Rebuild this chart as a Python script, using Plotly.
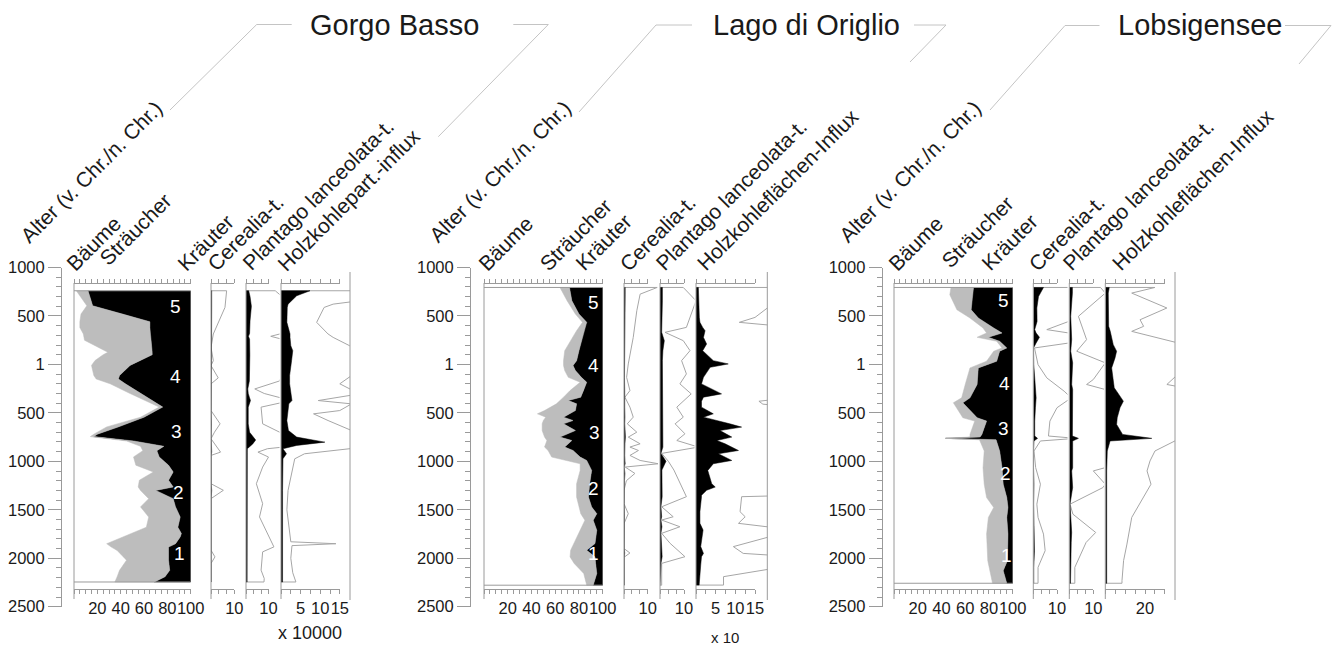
import plotly.graph_objects as go

# ---------------------------------------------------------------- data
# ages: positive = n. Chr., negative = v. Chr.
age_tickvals = [1000, 500, 0, -500, -1000, -1500, -2000, -2500]
age_ticktext = ["1000", "500", "1", "500", "1000", "1500", "2000", "2500"]

site_names = ["Gorgo Basso", "Lago di Origlio", "Lobsigensee"]
header_texts = [
    ["Alter (v. Chr./n. Chr.)", "Bäume", "Sträucher", "Kräuter", "Cerealia-t.",
     "Plantago lanceolata-t.", "Holzkohlepart.-influx"],
    ["Alter (v. Chr./n. Chr.)", "Bäume", "Sträucher", "Kräuter", "Cerealia-t.",
     "Plantago lanceolata-t.", "Holzkohleflächen-Influx"],
    ["Alter (v. Chr./n. Chr.)", "Bäume", "Sträucher", "Kräuter", "Cerealia-t.",
     "Plantago lanceolata-t.", "Holzkohleflächen-Influx"],
]
zone_labels = ["5", "4", "3", "2", "1"]

# --- Gorgo Basso
gb_ages = [760, 605, 520, 440, 380, 315, 250, 125, 100, 40, -10, -115, -150, -200, -300, -440,
           -545, -645, -720, -745, -790, -845, -890, -955, -1040, -1110, -1195, -1265, -1300,
           -1385, -1470, -1575, -1680, -1745, -1780, -1850, -1885, -1920, -2020, -2125, -2190, -2245]
gb_baeume = [2, 11, 6, 5, 5, 8, 9, 29, 25, 18, 15, 17, 19, 31, 48, 73, 57, 28, 17, 14, 45, 57,
             59, 51, 53, 68, 56, 55, 57, 64, 57, 64, 62, 49, 42, 28, 32, 37, 45, 39, 37, 35]
gb_straeucher = [10, 5, 36, 60, 60, 57, 57, 38, 42, 39, 33, 22, 19, 13, 9, 3, 3, 10, 3, 3, 6, 20,
                 12, 22, 28, 17, 25, 30, 13, 21, 30, 27, 27, 43, 49, 59, 49, 44, 36, 43, 41, 34]
gb_zone_ages = [595, -127, -695, -1320, -1949]
gb_zone_x = [86.6, 86.6, 88, 89.4, 90]

gb_cer_ages = [760, 588, 314, 176, 39, -12, -139, -201, -476, -613, -699, -767, -905, -939,
               -1231, -1299, -1385, -1917, -1986, -2054, -2245]
gb_cer = [0.3, 0.3, 0.2, 0.1, 0.1, 0.1, 0.2, 0.1, 0.1, 0.2, 0.1, 0.1, 0.3, 0.1, 0.1, 0.3, 0.1,
          0.1, 0.1, 0.1, 0.1]
gb_cer_ex = [6.7, 6.0, 1.0, 0, 1.0, 0, 3.1, 0, 0, 3.9, 1.5, 0, 4.1, 0, 0, 5.3, 0, 0, 1.7, 0, 0]

gb_pla_ages = [760, 700, 600, 450, 320, 290, 260, 100, -100, -170, -253, -300, -338, -373, -441,
               -613, -700, -780, -820, -870, -905, -956, -1059, -1231, -1437, -1574, -1711, -1883,
               -1934, -2123, -2209, -2245]
gb_pla = [1.2, 1.8, 2.4, 1.8, 1.6, 1.1, 1.6, 1.7, 1.6, 1.5, 0.8, 1.0, 1.5, 2.0, 1.0, 1.0, 1.6,
          4.3, 3.0, 0.6, 0.6, 0.6, 0.6, 0.6, 0.5, 0.5, 0.6, 0.5, 0.6, 0.6, 0.6, 0.5]
gb_pla_ex = [13, 16, 20, 18, 16, 11, 16, 17, 16, 15, 3.9, 8.1, 15, 20, 6.7, 7.4, 15, 40, 30, 9.5,
             5.3, 10, 7.4, 4.6, 7.4, 6.0, 8.9, 12.4, 7.4, 6.7, 8.1, 8.0]

gb_hk_ages = [760, 708, 622, 588, 434, 314, 279, 193, 142, 39, -115, -200, -304, -373, -407, -476,
              -510, -579, -682, -750, -802, -836, -870, -922, -974, -1100, -1300, -1500, -1700,
              -1830, -1850, -1870, -2000, -2150, -2245]
gb_hk = [7.4, 4.0, 1.8, 1.6, 1.5, 2.3, 2.3, 2.5, 3.0, 2.7, 2.2, 2.2, 2.5, 2.8, 2.0, 1.8, 1.6, 1.5,
         1.9, 4.0, 11.2, 4.0, 0.5, 1.4, 0.5, 0.4, 0.4, 0.4, 0.4, 0.4, 0.5, 0.4, 0.4, 0.4, 0.4]
gb_hk_ex = [30, 30, 13.3, 11, 9.1, 12, 13.3, 17.5, 25, 25, 18, 15, 20, 9.5, 18, 15, 8.3, 12, 18,
            30, 30, 25, 17, 6, 3.5, 2.8, 1.8, 1.5, 2.0, 2.5, 14, 2.8, 2.5, 3.0, 3.8]

# --- Lago di Origlio
lo_ages = [794, 657, 520, 434, 348, 211, 142, 39, -12, -64, -133, -184, -270, -338, -373, -407,
           -476, -510, -544, -579, -613, -682, -750, -785, -853, -888, -956, -991, -1025, -1094,
           -1231, -1368, -1471, -1540, -1608, -1711, -1849, -1917, -1986, -2054, -2157, -2278]
lo_baeume = [64, 70, 77, 83, 78, 71, 68, 67, 67, 68, 71, 81, 72.5, 67, 64, 61, 51, 45, 52, 50,
             49, 49, 51, 53, 51, 54, 57, 70, 81, 81, 78, 78, 80, 81.5, 85, 81, 75, 73, 72.5, 76,
             84, 86.5]
lo_straeucher = [8, 4, 3, 3.5, 6, 10.5, 12, 11, 8, 9, 11, 5.5, 11.5, 14.5, 7, 17, 26, 27, 15, 25,
                 18, 28, 13, 21, 17, 21, 24, 16.5, 7, 9.7, 11, 10, 10.7, 13.5, 7, 14, 18.5, 13.5,
                 21, 18, 11, 5.5]
lo_zone_ages = [637, -6, -705, -1279, -1949]
lo_zone_x = [92, 92, 93, 92, 92]

lo_cer_ages = [794, 725, 554, 279, 142, 5, -133, -270, -338, -441, -544, -613, -699, -750, -819,
               -853, -888, -939, -991, -1025, -1059, -1125, -1200, -1300, -1437, -1540, -1643,
               -1900, -1946, -1990, -2278]
lo_cer = [0.5, 0.5, 0.4, 0.3, 0.3, 0.3, 0.2, 0.3, 0.2, 0.3, 0.4, 0.3, 0.5, 0.6, 0.4, 0.3, 0.4,
          0.3, 0.4, 0.5, 0.1, 0.4, 0.2, 0.1, 0.1, 0.2, 0.1, 0.1, 0.3, 0.1, 0.1]
lo_cer_ex = [14, 6.8, 5.4, 3.9, 2.8, 1.8, 1.1, 2.5, 0.4, 2.5, 3.9, 1.4, 5.4, 1.8, 6.8, 2.5, 6.1,
             2.5, 6.8, 14.5, 0.5, 4.6, 1.0, 0, 0, 1.8, 0, 0, 2.5, 0, 0]

lo_pla_ages = [794, 657, 382, 331, 245, 142, 39, -98, -201, -304, -441, -544, -613, -716, -785,
               -853, -918, -1000, -1090, -1365, -1469, -1572, -1606, -1675, -1743, -1846, -1984,
               -2053, -2278]
lo_pla = [1.0, 1.0, 1.0, 0.7, 1.8, 1.2, 1.0, 1.0, 1.0, 1.0, 1.0, 1.0, 1.0, 1.2, 1.0, 1.2, 0.4,
          2.5, 0.8, 0.9, 0.4, 0.7, 0.4, 0.8, 0.4, 0.6, 0.9, 0.4, 0.3]
lo_pla_ex = [9.7, 15, 11, 2.1, 9.7, 12.5, 9.0, 11, 8.3, 13, 7.0, 9.7, 6.3, 10.4, 7.0, 16, 0.7,
             3.5, 5.8, 11, 0.7, 5.5, 0.7, 8.3, 0.7, 4.2, 10.4, 0.7, 0.7]

lo_hk_ages = [794, 485, 434, 382, 348, 279, 211, 142, 39, 5, -30, -133, -201, -304, -338, -380,
              -410, -441, -510, -544, -613, -647, -682, -750, -785, -819, -888, -922, -991, -1025,
              -1094, -1231, -1265, -1299, -1351, -1365, -1520, -1572, -1640, -1709, -1880, -1950,
              -1984, -2070, -2190, -2277]
lo_hk = [0.6, 0.85, 1.0, 1.7, 2.3, 1.9, 2.7, 1.7, 4.4, 8.2, 3.6, 1.9, 1.4, 6.5, 1.9, 1.4, 1.4,
         1.4, 4.4, 1.9, 8.6, 11.6, 6.1, 9.1, 5.3, 7.4, 10.8, 5.7, 9.1, 4.4, 3.0, 4.0, 4.9, 2.7,
         1.4, 1.4, 1.0, 1.0, 1.0, 1.8, 1.2, 1.9, 1.4, 1.2, 1.0, 0.8]
lo_hk_ex = [25, 15, 11, 25, 25, 25, 25, 25, 25, 25, 25, 25, 25, 25, 25, 16, 17, 25, 25, 25, 25,
            25, 25, 25, 25, 25, 25, 25, 25, 25, 25, 25, 25, 25, 25, 11.6, 11.2, 12.5, 10.8, 25,
            9.5, 12, 25, 25, 7, 7]

# --- Lobsigensee
ls_ages = [794, 719, 564, 479, 376, 324, 280, 239, 170, 136, 33, -36, -207, -345, -396, -550,
           -585, -722, -749, -763, -777, -893, -1065, -1236, -1374, -1476, -1579, -1751, -2025,
           -2128, -2258]
ls_baeume = [48, 47, 53, 64, 75, 78, 70, 86.5, 91, 84, 78, 64, 60, 57, 50, 58, 68, 64, 64, 43,
             72, 76, 75, 76, 78, 84, 79.5, 78, 79, 81, 83]
ls_straeucher = [19, 19, 12, 7, 9, 13, 9.5, 2.5, 4, 5, 8.5, 7, 10, 7, 8, 12, 10, 10, 8.5, 0.5,
                 14, 13, 16, 16, 17, 12, 15.5, 18, 16.5, 11, 12]
ls_zone_ages = [657, -195, -659, -1124, -1967]
ls_zone_x = [92, 93, 92, 94, 95]

ls_cer_ages = [794, 700, 582, 444, 359, 324, 280, 221, 170, -2, -139, -276, -345, -447, -585,
               -739, -763, -790, -893, -1065, -1236, -1442, -1579, -1751, -1922, -2094, -2258]
ls_cer = [4.3, 2.2, 1.5, 1.6, 0.6, 1.2, 2.6, 1.2, 0.1, 0.2, 0.5, 1.0, 1.2, 0.9, 0.6, 0.6, 1.8,
          0.3, 0.1, 0.1, 0.3, 0.15, 0.2, 0.4, 0.5, 0.2, 0.2]
ls_cer_ex = [30, 25, 20, 15, 5.7, 15, 26, 15, 0.5, 2.0, 5.7, 13, 16, 10, 7, 6.4, 18, 3, 0.3, 1,
             3, 1.5, 2, 4.3, 5, 2, 2]

ls_pla_ages = [794, 736, 496, 256, 136, 16, -156, -207, -259, -482, -739, -763, -790, -859,
               -1065, -1099, -1236, -1271, -1442, -1545, -1734, -1837, -2094, -2258]
ls_pla = [1.3, 1.3, 0.6, 1.0, 0.6, 1.4, 1.2, 1.0, 1.4, 1.4, 1.3, 3.8, 1.4, 1.4, 1.4, 1.0, 1.4,
          1.4, 0.3, 0.5, 1.0, 0.8, 0.5, 0.5]
ls_pla_ex = [13, 15, 3.8, 7.2, 3.1, 15, 10, 7.2, 15, 16, 16, 30, 16, 15, 15, 10, 15, 14, 0.3,
             1.5, 11, 7, 2.3, 2.3]

ls_hk_ages = [794, 736, 582, 461, 393, 341, 204, 136, 67, -36, -207, -242, -276, -379, -447,
              -550, -619, -722, -763, -790, -893, -996, -1099, -1236, -1408, -1579, -1854, -2025,
              -2231, -2258]
ls_hk = [2.0, 1.5, 1.6, 1.7, 1.7, 2.5, 4.0, 5.7, 4.9, 3.2, 4.0, 4.5, 5.7, 9.1, 7.4, 6.0, 5.7,
         8.7, 23.4, 2.4, 1.0, 0.7, 0.7, 0.7, 0.7, 0.7, 0.7, 0.7, 0.7, 0.7]
ls_hk_ex = [25, 13.3, 31, 17.5, 19.3, 13.3, 40, 40, 40, 40, 31, 40, 40, 40, 40, 40, 40, 40, 40,
            35, 25, 22.5, 21, 23, 18, 13.3, 10.9, 9.2, 8.4, 8.4]

# ---------------------------------------------------------------- layout constants (pixels)
W, H = 1334, 646
FONT = "Liberation Sans, Arial, sans-serif"
TXT = "#1a1a1a"
AX = "#9a9a9a"
GREYFILL = "#bdbdbd"
EXLINE = "#a6a6a6"
LEAD = "#c4c4c4"

AGE_TOP_PX, AGE_BOT_PX = 267.5, 606.7     # 1000 n. Chr. / 2500 v. Chr.
AX_TOP_PX, AX_BOT_PX = 283.0, 589.0
TICKFONT = dict(size=16.5, color=TXT, family=FONT)


def fx(p):
    return p / W


def fy(p):
    return 1 - p / H


thirds = [0, 10 / 3, 20 / 3, 10]
sites = [
    dict(yax=61, pct=(74, 190.7),
         panels=[(211, 234.3, 10, 244, thirds, ["", "", "", "10"]),
                 (246, 268.5, 10, 279.5, thirds, ["", "", "", "10"]),
                 (281, 339.8, 15, 350, [0, 2.5, 5, 7.5, 10, 12.5, 15],
                  ["", "", "5", "", "10", "", "15"])],
         right=350,
         perc=(gb_ages, gb_baeume, gb_straeucher),
         zones=(gb_zone_ages, gb_zone_x),
         small=[(gb_cer_ages, gb_cer, gb_cer_ex), (gb_pla_ages, gb_pla, gb_pla_ex),
                (gb_hk_ages, gb_hk, gb_hk_ex)],
         title_c=394, heads=[(29.5, 243.3), (75, 271.7), (108.3, 266.7), (186.7, 271.7),
                             (216.7, 271.7), (251.7, 271.7), (286.7, 271.7)],
         leaders=[[(170, 110), (256.7, 24.5), (291.7, 24.5)],
                  [(513.3, 24.5), (548.3, 24.5), (438.3, 136.7)]],
         mult=("x 10000", 310, 633, 18)),
    dict(yax=470, pct=(484, 602.7),
         panels=[(624, 647.7, 10, 658, thirds, ["", "", "", "10"]),
                 (660, 684, 10, 694.5, thirds, ["", "", "", "10"]),
                 (696, 755, 15, 767.3, [0, 2.5, 5, 7.5, 10, 12.5, 15],
                  ["", "", "5", "", "10", "", "15"])],
         right=767.3,
         perc=(lo_ages, lo_baeume, lo_straeucher),
         zones=(lo_zone_ages, lo_zone_x),
         small=[(lo_cer_ages, lo_cer, lo_cer_ex), (lo_pla_ages, lo_pla, lo_pla_ex),
                (lo_hk_ages, lo_hk, lo_hk_ex)],
         title_c=806, heads=[(438, 243.3), (487, 271.7), (549, 271.7), (584, 271.7),
                             (629, 271.7), (665, 271.7), (706, 271.7)],
         leaders=[[(579, 112), (656, 25), (692, 25)],
                  [(914, 25), (946, 25), (910, 62)]],
         mult=("x 10", 725, 637, 15)),
    dict(yax=881.7, pct=(894, 1012.7),
         panels=[(1033.3, 1057, 10, 1067.5, thirds, ["", "", "", "10"]),
                 (1069.3, 1093.3, 10, 1104, thirds, ["", "", "", "10"]),
                 (1105.3, 1164.9, 30, 1175, [0, 5, 10, 15, 20, 25, 30],
                  ["", "", "", "", "20", "", ""])],
         right=1175,
         perc=(ls_ages, ls_baeume, ls_straeucher),
         zones=(ls_zone_ages, ls_zone_x),
         small=[(ls_cer_ages, ls_cer, ls_cer_ex), (ls_pla_ages, ls_pla, ls_pla_ex),
                (ls_hk_ages, ls_hk, ls_hk_ex)],
         title_c=1200, heads=[(848, 243.3), (897, 271.7), (951, 269), (990, 271.7),
                              (1038, 271.7), (1072, 271.7), (1121, 271.7)],
         leaders=[[(990, 110), (1065, 25.5), (1099.5, 25.5)],
                  [(1285, 25.5), (1331, 25.5), (1299, 64)]],
         mult=None),
]

# ---------------------------------------------------------------- build
fig = go.Figure()
axes = {}
annotations = []
shapes = []
cnt = [0]


def new_x(spec):
    cnt[0] += 1
    n = cnt[0]
    axes["xaxis" if n == 1 else f"xaxis{n}"] = spec
    return "x" if n == 1 else f"x{n}"


def tick_axis(rng, pos, side, tv, tt, labels, domain=None, overlay=None):
    d = dict(range=rng, anchor="free", position=pos, side=side, tickmode="array",
             tickvals=tv, ticktext=tt, showticklabels=labels, ticks="outside", ticklen=4,
             tickwidth=1, tickcolor=AX, showline=True, linecolor=AX, linewidth=1,
             showgrid=False, zeroline=False, fixedrange=True, tickfont=TICKFONT,
             tickangle=0)
    if domain is not None:
        d["domain"] = domain
    if overlay is not None:
        d["overlaying"] = overlay
    return d


def dummy(xr, yr):
    fig.add_trace(go.Scatter(x=[None], y=[None], xaxis=xr, yaxis=yr, mode="lines",
                             hoverinfo="skip", showlegend=False))


def vline(x, y0, y1):
    shapes.append(dict(type="line", xref="paper", yref="paper", x0=fx(x), x1=fx(x),
                       y0=fy(y0), y1=fy(y1), line=dict(color=AX, width=1)))


def header(text, sx, sy, size=21):
    annotations.append(dict(text=text, x=fx(sx - 0.64 * size), y=fy(sy + 0.15 * size),
                            xref="paper", yref="paper", xanchor="left", yanchor="bottom",
                            textangle=-45, showarrow=False, borderpad=0, borderwidth=0,
                            font=dict(size=size, color=TXT, family=FONT)))


pct_vals = list(range(0, 101, 5))
pct_text = [str(v) if v in (20, 40, 60, 80, 100) else "" for v in pct_vals]

for k, s in enumerate(sites):
    yr = "y" if k == 0 else f"y{k + 1}"
    ykey = "yaxis" if k == 0 else f"yaxis{k + 1}"
    axes[ykey] = dict(domain=[fy(AGE_BOT_PX), fy(AGE_TOP_PX)], range=[-2500, 1000],
                      anchor="free", position=fx(s["yax"]), side="left",
                      tickmode="array", tickvals=age_tickvals, ticktext=age_ticktext,
                      ticks="outside", ticklen=13, tickwidth=1, tickcolor=AX,
                      showline=True, linecolor=AX, linewidth=1, showgrid=False,
                      zeroline=False, fixedrange=True, tickfont=TICKFONT, tickangle=0,
                      minor=dict(tickmode="linear", tick0=0, dtick=100, ticks="outside",
                                 ticklen=5, tickcolor=AX, showgrid=False))

    # ---- percentage panel
    L, R = s["pct"]
    ages, bae, stra = s["perc"]
    px_ = new_x(tick_axis([0, 100], fy(AX_BOT_PX), "bottom", pct_vals, pct_text, True,
                          domain=[fx(L), fx(R)]))
    ptop = new_x(tick_axis([0, 100], fy(AX_TOP_PX), "top", pct_vals, pct_text, False,
                           overlay=px_))
    dummy(ptop, yr)
    ts = [b + c for b, c in zip(bae, stra)]
    # Kräuter (black) – from trees+shrubs to 100
    fig.add_trace(go.Scatter(x=ts + [100, 100], y=ages + [ages[-1], ages[0]],
                             fill="toself", fillcolor="black", mode="lines",
                             line=dict(color="black", width=0.6), xaxis=px_, yaxis=yr,
                             hoverinfo="skip", showlegend=False))
    # Sträucher (grey band)
    fig.add_trace(go.Scatter(x=bae + ts[::-1], y=ages + ages[::-1], fill="toself",
                             fillcolor=GREYFILL, mode="lines",
                             line=dict(color=GREYFILL, width=0.5), xaxis=px_, yaxis=yr,
                             hoverinfo="skip", showlegend=False))
    # top / bottom closing lines of the diagram
    fig.add_trace(go.Scatter(x=[0, 100, None, 0, 100],
                             y=[ages[0], ages[0], None, ages[-1], ages[-1]], mode="lines",
                             line=dict(color=AX, width=1), xaxis=px_, yaxis=yr,
                             hoverinfo="skip", showlegend=False))
    zages, zx = s["zones"]
    for lab, za, zxx in zip(zone_labels, zages, zx):
        annotations.append(dict(text=lab, x=zxx, y=za, xref=px_, yref=yr, showarrow=False,
                                font=dict(size=19, color="white", family=FONT)))
    vline(L, AX_TOP_PX, 599)

    # ---- small panels
    for (Lp, E, ev, C, tv, tt), (sa, blk, ex) in zip(s["panels"], s["small"]):
        ppu = (E - Lp) / ev
        dx = new_x(dict(domain=[fx(Lp), fx(C)], range=[0, (C - Lp) / ppu], visible=False,
                        anchor="free", position=0, fixedrange=True))
        bx = new_x(tick_axis([0, ev], fy(AX_BOT_PX), "bottom", tv, tt, True,
                             domain=[fx(Lp), fx(E)]))
        tx = new_x(tick_axis([0, ev], fy(AX_TOP_PX), "top", tv, tt, False, overlay=bx))
        dummy(bx, yr)
        dummy(tx, yr)
        yy = [sa[0]] + sa + [sa[-1]]
        fig.add_trace(go.Scatter(x=[0] + ex + [0], y=yy, mode="lines",
                                 line=dict(color=EXLINE, width=1), xaxis=dx, yaxis=yr,
                                 hoverinfo="skip", showlegend=False))
        fig.add_trace(go.Scatter(x=[0] + blk + [0], y=yy, mode="lines", fill="toself",
                                 fillcolor="black", line=dict(color="black", width=0.5),
                                 xaxis=dx, yaxis=yr, hoverinfo="skip", showlegend=False))
        vline(Lp, AX_TOP_PX, 599)
    vline(s["right"], 272, 600)

    # ---- texts
    annotations.append(dict(text=site_names[k], x=fx(s["title_c"]), y=fy(25), xref="paper",
                            yref="paper", xanchor="center", yanchor="middle", showarrow=False,
                            font=dict(size=29, color=TXT, family=FONT)))
    for txt, (hx, hy) in zip(header_texts[k], s["heads"]):
        header(txt, hx, hy)
    for poly in s["leaders"]:
        for (x0, y0), (x1, y1) in zip(poly[:-1], poly[1:]):
            shapes.append(dict(type="line", xref="paper", yref="paper", x0=fx(x0), y0=fy(y0),
                               x1=fx(x1), y1=fy(y1), line=dict(color=LEAD, width=1)))
    if s["mult"]:
        t, mx, my, ms = s["mult"]
        annotations.append(dict(text=t, x=fx(mx), y=fy(my), xref="paper", yref="paper",
                                xanchor="center", yanchor="middle", showarrow=False,
                                font=dict(size=ms, color=TXT, family=FONT)))

fig.update_layout(width=W, height=H, margin=dict(l=0, r=0, t=0, b=0), autosize=False,
                  paper_bgcolor="white", plot_bgcolor="rgba(0,0,0,0)", template="none",
                  showlegend=False, hovermode=False, annotations=annotations, shapes=shapes,
                  font=dict(family=FONT, color=TXT), **axes)

# the page's default 8 px body margin would shift the whole figure; remove it
fig.write_html("out.html", config={"displayModeBar": False},
               post_script="document.body.style.margin='0px';"
                           "document.body.style.overflow='hidden';")
